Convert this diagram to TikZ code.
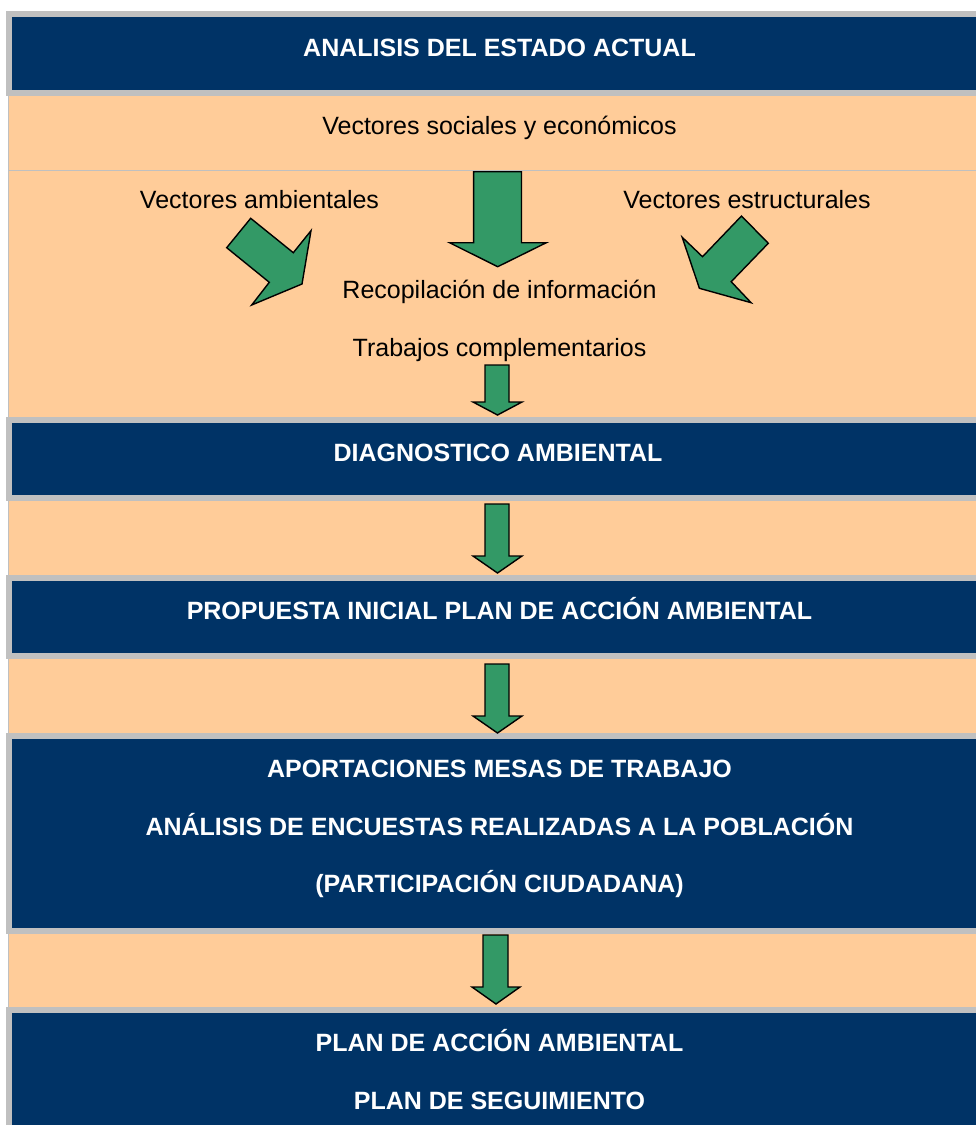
\documentclass[tikz,border=0pt]{standalone}
\usepackage{fontspec}
\setmainfont{Liberation Sans}
\definecolor{navy}{RGB}{0,51,102}
\definecolor{peach}{RGB}{255,204,153}
\definecolor{framegray}{RGB}{192,192,192}
\definecolor{arrowgreen}{RGB}{51,153,102}
\tikzset{
  hdr/.style={text=white, font=\fontsize{25}{30}\selectfont\bfseries, anchor=base, inner sep=0pt},
  lbl/.style={text=black, font=\fontsize{25}{30}\selectfont, anchor=base, inner sep=0pt},
  blockarrow/.style={fill=arrowgreen, draw=black, line width=1.4pt, line join=miter},
  rule/.style={draw=framegray, line width=1pt}
}
\newcommand{\panelbox}[2]{%
  \fill[framegray] (6,#1) rectangle (990,#2);
  \fill[navy] (12,#1+6) rectangle (990,#2-6);
}
\begin{document}
\begin{tikzpicture}[x=1pt,y=-1pt]
\useasboundingbox (0,0) rectangle (976,1125);
\clip (0,0) rectangle (976,1125);
\fill[white] (0,0) rectangle (976,1125);
% peach background
\fill[peach] (8,96) rectangle (990,1007);
\draw[rule] (8.5,96) -- (8.5,1007);
\draw[rule] (8,170) -- (990,170);
% panels
\panelbox{11}{96}
\panelbox{417}{501}
\panelbox{575}{659}
\panelbox{733}{934}
\fill[framegray] (6,1007) rectangle (990,1130);
\fill[navy] (12,1013) rectangle (990,1130);
% texts
\node[hdr] (t1) at (499.5,56) {ANALISIS DEL ESTADO ACTUAL};
\node[lbl] (vs) at (499.5,134) {Vectores sociales y económicos};
\node[lbl] (va) at (259.5,208) {Vectores ambientales};
\node[lbl] (ve) at (747,208) {Vectores estructurales};
\node[lbl] (rec) at (499.5,298) {Recopilación de información};
\node[lbl] (tc) at (499.5,356) {Trabajos complementarios};
\node[hdr] (t2) at (498,461) {DIAGNOSTICO AMBIENTAL};
\node[hdr] (t3) at (499.5,619) {PROPUESTA INICIAL PLAN DE ACCIÓN AMBIENTAL};
\node[hdr] (t4a) at (499.5,777) {APORTACIONES MESAS DE TRABAJO};
\node[hdr] (t4b) at (499.5,835) {ANÁLISIS DE ENCUESTAS REALIZADAS A LA POBLACIÓN};
\node[hdr] (t4c) at (499.5,892) {(PARTICIPACIÓN CIUDADANA)};
\node[hdr] (t5a) at (499.5,1051) {PLAN DE ACCIÓN AMBIENTAL};
\node[hdr] (t5b) at (499.5,1109) {PLAN DE SEGUIMIENTO};
% big arrows
\draw[blockarrow] (226.7,247.7) -- (250.7,218.3) -- (293.3,252.7) -- (311,230.7) -- (302,284) -- (251.7,305) -- (269.3,282.3) -- cycle;
\draw[blockarrow] (473.6,171.7) -- (521.5,171.7) -- (521.5,242.7) -- (546.3,242.7) -- (497.7,266.7) -- (449.5,242.7) -- (473.6,242.7) -- cycle;
\draw[blockarrow] (741.5,216) -- (768.3,243.3) -- (731.2,281.7) -- (751.1,302.7) -- (699.4,288.3) -- (682.2,237.3) -- (702.5,256.7) -- cycle;
% small arrows
\draw[blockarrow] (485,365) -- (509,365) -- (509,402) -- (522,402) -- (497.5,415) -- (473,402) -- (485,402) -- cycle;
\draw[blockarrow] (485,504) -- (509,504) -- (509,556) -- (522,556) -- (497.5,573) -- (473,556) -- (485,556) -- cycle;
\draw[blockarrow] (485,664) -- (509,664) -- (509,716) -- (522,716) -- (497.5,733) -- (473,716) -- (485,716) -- cycle;
\draw[blockarrow] (483,935) -- (508,935) -- (508,987) -- (520,987) -- (496,1004) -- (472,987) -- (483,987) -- cycle;
\end{tikzpicture}
\end{document}
